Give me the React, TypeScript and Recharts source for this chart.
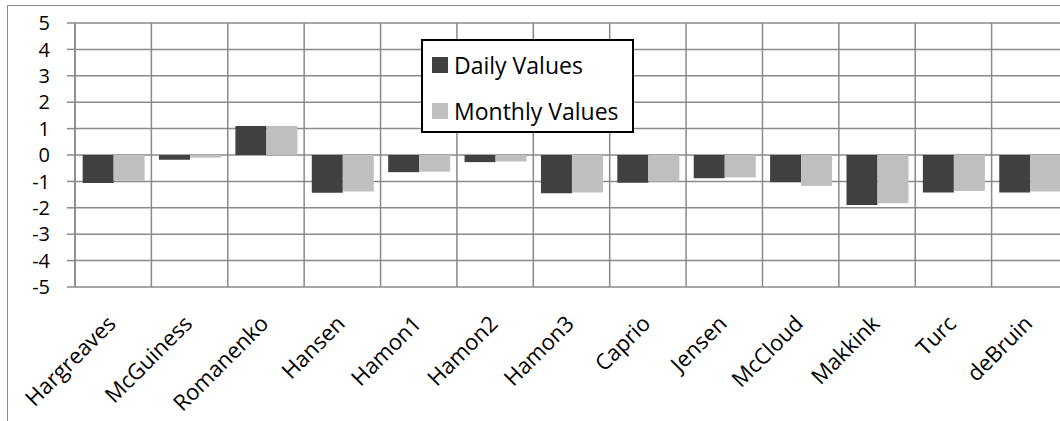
import { BarChart, Bar, XAxis, YAxis, CartesianGrid } from 'recharts';

const categories = [
  'Hargreaves',
  'McGuiness',
  'Romanenko',
  'Hansen',
  'Hamon1',
  'Hamon2',
  'Hamon3',
  'Caprio',
  'Jensen',
  'McCloud',
  'Makkink',
  'Turc',
  'deBruin',
];
const dailyValues = [-1.06, -0.18, 1.1, -1.43, -0.65, -0.27, -1.45, -1.05, -0.88, -1.03, -1.89, -1.42, -1.42];
const monthlyValues = [-0.98, -0.1, 1.1, -1.38, -0.63, -0.25, -1.42, -1.0, -0.85, -1.17, -1.83, -1.36, -1.38];
const yTicks = [-5, -4, -3, -2, -1, 0, 1, 2, 3, 4, 5];

const seriesNames = ['Daily Values', 'Monthly Values'];
const seriesColors = ['#404040', '#bfbfbf'];

const data = categories.map((name, i) => ({
  name,
  daily: dailyValues[i],
  monthly: monthlyValues[i],
}));

const FONT = '"Open Sans", sans-serif';
const GRID = '#8a8a8a';

function AngledTick({ x, y, payload }: { x?: number; y?: number; payload?: { value: string } }) {
  const ax = (x ?? 0) + 4;
  const ay = (y ?? 0) + 30;
  return (
    <text
      x={ax}
      y={ay}
      transform={`rotate(-45, ${ax}, ${ay})`}
      textAnchor="end"
      fontSize={22}
      fontFamily={FONT}
      fill="#000"
    >
      {payload?.value}
    </text>
  );
}

// legend drawn as an overlay so it doesn't eat plot space
function LegendBox() {
  return (
    <div
      style={{
        position: 'absolute',
        left: 421,
        top: 39,
        width: 209,
        height: 90,
        border: '2px solid #000',
        background: '#fff',
        fontFamily: FONT,
        fontSize: 23,
        color: '#000',
      }}
    >
      {seriesNames.map((name, i) => (
        <div
          key={name}
          style={{
            position: 'absolute',
            left: 9,
            top: 9 + i * 46,
            display: 'flex',
            alignItems: 'center',
            height: 30,
            whiteSpace: 'nowrap',
          }}
        >
          <span style={{ width: 16, height: 16, background: seriesColors[i], marginRight: 6, display: 'inline-block' }} />
          <span>{name}</span>
        </div>
      ))}
    </div>
  );
}

export default function App() {
  return (
    <div style={{ position: 'fixed', left: 0, top: 0, width: 1060, height: 421, overflow: 'hidden', background: '#fff' }}>
      <div
        style={{
          position: 'absolute',
          left: 7,
          top: 5,
          width: 1200,
          height: 600,
          borderTop: `1.5px solid ${GRID}`,
          borderLeft: `1.5px solid ${GRID}`,
        }}
      />
      <div style={{ position: 'absolute', left: 0, top: 0 }}>
        <BarChart
          width={1100}
          height={421}
          data={data}
          margin={{ top: 23, right: 32, left: 8, bottom: 0 }}
          barCategoryGap="10%"
          barGap={0}
        >
          <CartesianGrid
            stroke={GRID}
            strokeWidth={1.5}
            verticalCoordinatesGenerator={({ offset }: any) =>
              categories.map((_, i) => offset.left + (i * offset.width) / categories.length).concat(offset.left + offset.width)
            }
          />
          <XAxis
            dataKey="name"
            height={134}
            interval={0}
            axisLine={false}
            tickLine={false}
            tick={<AngledTick />}
          />
          <YAxis
            width={67}
            domain={[-5, 5]}
            ticks={yTicks}
            interval={0}
            axisLine={{ stroke: GRID, strokeWidth: 1.5 }}
            tickLine={{ stroke: GRID, strokeWidth: 1.5 }}
            tickSize={8}
            tickMargin={17}
            tick={{ fontSize: 20, fontFamily: FONT, fill: '#000' }}
          />
          <Bar dataKey="daily" name={seriesNames[0]} fill={seriesColors[0]} isAnimationActive={false} />
          <Bar dataKey="monthly" name={seriesNames[1]} fill={seriesColors[1]} isAnimationActive={false} />
        </BarChart>
      </div>
      <LegendBox />
    </div>
  );
}
